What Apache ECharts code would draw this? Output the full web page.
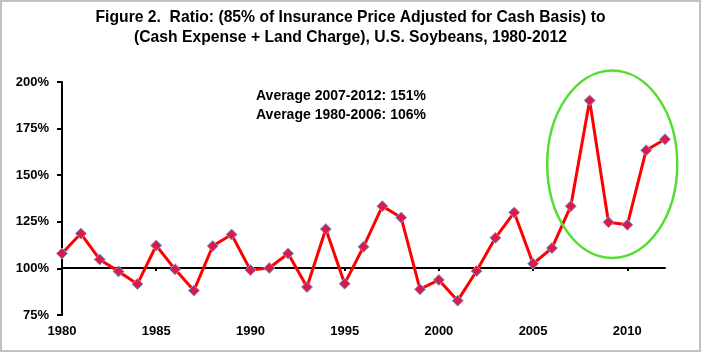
<!DOCTYPE html>
<html>
<head>
<meta charset="utf-8">
<script src="https://cdn.jsdelivr.net/npm/echarts@6/dist/echarts.min.js"></script>
<style>
  html, body { margin: 0; padding: 0; background: #fff; }
  #chart { width: 701px; height: 352px; box-sizing: border-box; border: 2px solid #c0c0c0; }
</style>
</head>
<body>
<div id="chart"></div>
<script>
// years and ratio (%)
const years = [];
for (let y = 1980; y <= 2012; y++) years.push(y);
const ratio = [108.0, 118.7, 104.8, 98.4, 91.6, 112.3, 99.5, 88.1, 112.0, 118.2,
               99.1, 100.2, 108.0, 90.0, 121.1, 91.8, 111.6, 133.4, 127.3, 88.8,
               93.8, 82.7, 98.6, 116.4, 130.0, 102.5, 110.9, 133.4, 190.1, 124.8,
               123.4, 163.4, 169.3];
const yearLabels = [1980, 1985, 1990, 1995, 2000, 2005, 2010];
const yearTicks = [1985, 1990, 1995, 2000, 2005, 2010];
const titleLines = ['Figure 2.  Ratio: (85% of Insurance Price Adjusted for Cash Basis) to',
                    '(Cash Expense + Land Charge), U.S. Soybeans, 1980-2012'];
const notes = ['Average 2007-2012: 151%', 'Average 1980-2006: 106%'];
// ellipse round the recent years: centre (year, %), radii (years, %)
const circle = { x: 2009.2, y: 155.9, rx: 3.45, ry: 50.3 };

const font = 'Arial, "Liberation Sans", sans-serif';
const chart = echarts.init(document.getElementById('chart'));

function noteText() {
  return notes.map((t, i) => ({
    type: 'text', left: 254, top: 87 + i * 19,
    style: { text: t, font: 'bold 14px ' + font, fill: '#000' }
  }));
}

chart.setOption({
  animation: false,
  title: {
    text: titleLines.join('\n'),
    left: 'center', top: 1,
    textStyle: { fontFamily: font, fontSize: 15.7, fontWeight: 'bold', color: '#000', lineHeight: 20 }
  },
  grid: { left: 60, right: 34, top: 80, bottom: 35 },
  xAxis: [{
    type: 'value', min: 1980, max: 2012,
    axisLine: { show: false }, axisTick: { show: false }, splitLine: { show: false },
    axisLabel: { customValues: yearLabels, formatter: v => String(v), color: '#000', fontFamily: font, fontWeight: 'bold', fontSize: 13, margin: 10 }
  }, {
    // the category line drawn across at 100%
    type: 'value', min: 1980, max: 2012, position: 'bottom', offset: -47,
    axisLine: { show: true, lineStyle: { color: '#000', width: 2 } },
    axisTick: { show: true, customValues: yearTicks, length: 3, lineStyle: { color: '#000', width: 2 } },
    axisLabel: { show: false }, splitLine: { show: false }
  }],
  yAxis: {
    type: 'value', min: 75, max: 200, interval: 25,
    axisLine: { show: true, lineStyle: { color: '#000', width: 2 } },
    axisTick: { show: true, length: 5, lineStyle: { color: '#000', width: 2 } },
    splitLine: { show: false },
    axisLabel: { formatter: '{value}%', color: '#000', fontFamily: font, fontWeight: 'bold', fontSize: 13, margin: 13 }
  },
  series: [{
    type: 'line',
    data: years.map((y, i) => [y, ratio[i]]),
    lineStyle: { color: '#ff0000', width: 3 },
    symbol: 'diamond', symbolSize: 11,
    itemStyle: { color: '#d81b4a', borderColor: '#7f9fd0', borderWidth: 1 }
  }],
  graphic: noteText()
});

// place the ellipse through the chart's scales
const c = chart.convertToPixel({ gridIndex: 0 }, [circle.x, circle.y]);
const e = chart.convertToPixel({ gridIndex: 0 }, [circle.x + circle.rx, circle.y + circle.ry]);
chart.setOption({
  graphic: noteText().concat([{
    type: 'ellipse', z: 100,
    shape: { cx: c[0], cy: c[1], rx: Math.abs(e[0] - c[0]), ry: Math.abs(c[1] - e[1]) },
    style: { fill: 'none', stroke: '#55dd33', lineWidth: 2.5 }
  }])
});
</script>
</body>
</html>
